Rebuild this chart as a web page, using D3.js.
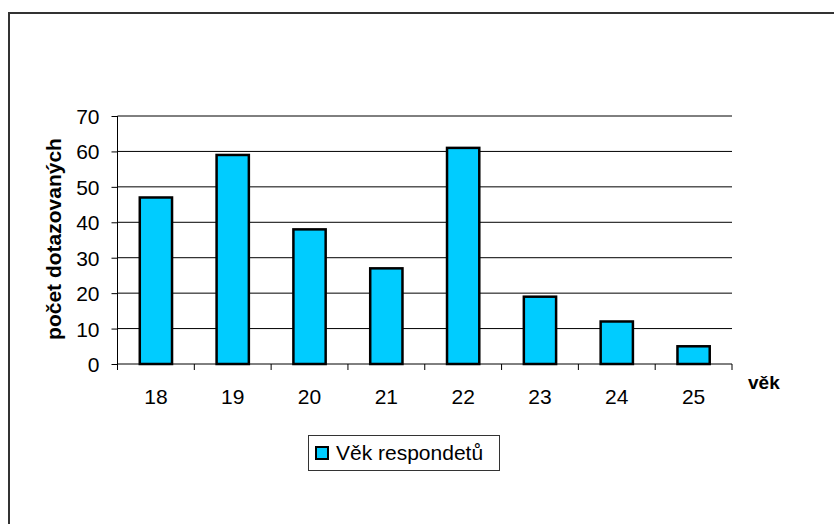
<!DOCTYPE html>
<html>
<head>
<meta charset="utf-8">
<script src="https://cdn.jsdelivr.net/npm/d3@7"></script>
<style>
  html, body { margin: 0; padding: 0; background: #fff; }
  svg { display: block; font-family: "Liberation Sans", Arial, sans-serif; }
</style>
</head>
<body>
<svg id="chart" width="834" height="524"></svg>
<script>
// Respondent ages and counts
const ages = ["18", "19", "20", "21", "22", "23", "24", "25"];
const counts = [47, 59, 38, 27, 61, 19, 12, 5];
const yTicks = [0, 10, 20, 30, 40, 50, 60, 70];
const seriesName = "Věk respondetů";
const yTitle = "počet dotazovaných";
const xTitle = "věk";

const svg = d3.select("#chart");

// Chart frame (extends past the right and bottom edges)
svg.append("rect")
  .attr("x", 9).attr("y", 13)
  .attr("width", 840).attr("height", 530)
  .attr("fill", "none")
  .attr("stroke", "#333")
  .attr("stroke-width", 2);

const plot = { left: 117.5, right: 732, top: 116, bottom: 364 };

const x = d3.scaleBand()
  .domain(ages)
  .range([plot.left, plot.right])
  .paddingInner(0.58)
  .paddingOuter(0.29);

const xOuter = d3.scaleBand().domain(ages).range([plot.left, plot.right]);

const y = d3.scaleLinear()
  .domain([0, 70])
  .range([plot.bottom, plot.top]);

// Horizontal gridlines
svg.append("g")
  .selectAll("line")
  .data(yTicks.filter(t => t > 0))
  .join("line")
  .attr("x1", plot.left).attr("x2", plot.right)
  .attr("y1", d => y(d)).attr("y2", d => y(d))
  .attr("stroke", "#000")
  .attr("stroke-width", 1);

// Y axis
const yAxis = svg.append("g")
  .attr("transform", `translate(${plot.left},0)`)
  .call(d3.axisLeft(y).tickValues(yTicks).tickSize(6).tickPadding(12).tickFormat(d3.format("d")));
yAxis.select(".domain").attr("stroke", "#000").attr("d", `M0,${plot.top}V${plot.bottom}`);
yAxis.selectAll(".tick line").attr("stroke", "#000");
yAxis.selectAll("text")
  .attr("fill", "#000")
  .attr("dy", "0.36em")
  .style("font-size", "21px")
  .style("font-family", "Liberation Sans, Arial, sans-serif");

// X axis: ticks at category boundaries
const bounds = ages.map(a => xOuter(a)).concat([plot.right]);
const xAxisG = svg.append("g");
xAxisG.append("line")
  .attr("x1", plot.left).attr("x2", plot.right)
  .attr("y1", plot.bottom).attr("y2", plot.bottom)
  .attr("stroke", "#000");
xAxisG.selectAll("line.tk")
  .data(bounds)
  .join("line")
  .attr("class", "tk")
  .attr("x1", d => d).attr("x2", d => d)
  .attr("y1", plot.bottom).attr("y2", plot.bottom + 6)
  .attr("stroke", "#000");
xAxisG.selectAll("text")
  .data(ages)
  .join("text")
  .attr("x", d => xOuter(d) + xOuter.bandwidth() / 2)
  .attr("y", 404)
  .attr("text-anchor", "middle")
  .attr("fill", "#000")
  .style("font-size", "21px")
  .text(d => d);

// Bars
svg.append("g")
  .selectAll("rect")
  .data(ages.map((a, i) => ({ age: a, value: counts[i] })))
  .join("rect")
  .attr("x", d => x(d.age))
  .attr("y", d => y(d.value))
  .attr("width", x.bandwidth())
  .attr("height", d => plot.bottom - y(d.value))
  .attr("fill", "#00ccff")
  .attr("stroke", "#000")
  .attr("stroke-width", 2.5);

// Axis titles
svg.append("text")
  .attr("transform", `translate(61,${(plot.top + plot.bottom) / 2 - 1}) rotate(-90)`)
  .attr("text-anchor", "middle")
  .attr("fill", "#000")
  .style("font-size", "21px")
  .style("font-weight", "bold")
  .text(yTitle);

svg.append("text")
  .attr("x", 748)
  .attr("y", 389)
  .attr("fill", "#000")
  .style("font-size", "19px")
  .style("font-weight", "bold")
  .text(xTitle);

// Legend
const legend = svg.append("g");
legend.append("rect")
  .attr("x", 308.5).attr("y", 435.5)
  .attr("width", 191).attr("height", 35)
  .attr("fill", "#fff")
  .attr("stroke", "#333")
  .attr("stroke-width", 1);
legend.append("rect")
  .attr("x", 316).attr("y", 447)
  .attr("width", 12).attr("height", 12)
  .attr("fill", "#00ccff")
  .attr("stroke", "#000")
  .attr("stroke-width", 2);
legend.append("text")
  .attr("x", 336)
  .attr("y", 460)
  .attr("fill", "#000")
  .style("font-size", "21px")
  .text(seriesName);
</script>
</body>
</html>
